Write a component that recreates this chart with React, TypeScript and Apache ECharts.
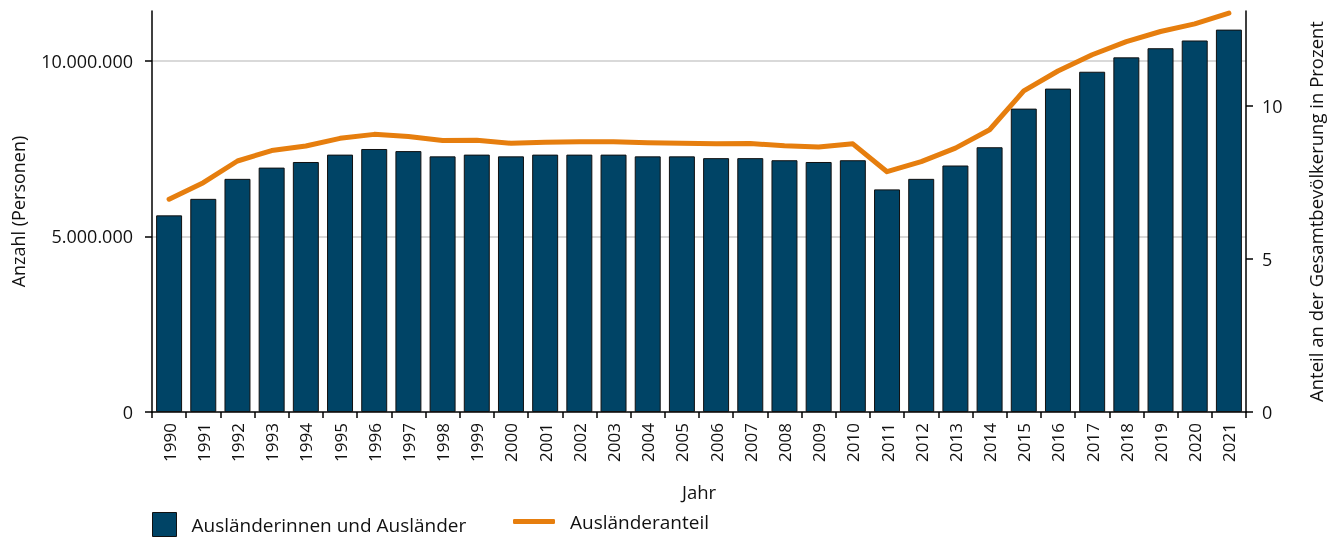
import React, { useEffect, useRef } from "react";
import * as echarts from "echarts";

const years = ["1990","1991","1992","1993","1994","1995","1996","1997","1998","1999","2000","2001","2002","2003","2004","2005","2006","2007","2008","2009","2010","2011","2012","2013","2014","2015","2016","2017","2018","2019","2020","2021"];

const foreigners = [5600000,6070000,6640000,6960000,7120000,7330000,7490000,7430000,7280000,7330000,7280000,7330000,7330000,7330000,7280000,7280000,7230000,7230000,7170000,7120000,7170000,6340000,6640000,7020000,7540000,8640000,9210000,9690000,10100000,10360000,10580000,10890000];

const share = [6.95,7.49,8.20,8.54,8.69,8.94,9.07,9.00,8.87,8.88,8.78,8.81,8.83,8.83,8.80,8.78,8.76,8.77,8.70,8.66,8.76,7.85,8.18,8.62,9.22,10.49,11.14,11.67,12.10,12.43,12.68,13.03];

const leftTicks = [0, 5000000, 10000000];
const rightTicks = [0, 5, 10];

const BAR_NAME = "Ausländerinnen und Ausländer";
const LINE_NAME = "Ausländeranteil";
const FONT = "Open Sans";
const TEXT = "#111111";
const BAR_COLOR = "#004466";
const LINE_COLOR = "#e67e0e";

function fmt(v: number) {
  return String(Math.round(v)).replace(/\B(?=(\d{3})+(?!\d))/g, ".");
}

export default function App() {
  const ref = useRef<HTMLDivElement>(null);
  useEffect(() => {
    if (!ref.current) return;
    const chart = echarts.init(ref.current, undefined, { renderer: "svg" });
    chart.setOption({
      animation: false,
      textStyle: { fontFamily: FONT, color: TEXT },
      grid: { left: 152, right: 87, top: 11, bottom: 126, containLabel: false },
      legend: [
        {
          data: [{ name: BAR_NAME, icon: "rect" }],
          left: 152,
          top: 512,
          padding: 0,
          itemWidth: 24,
          itemHeight: 24,
          itemGap: 10,
          itemStyle: { color: BAR_COLOR, borderColor: "#111", borderWidth: 1 },
          textStyle: { fontFamily: FONT, fontSize: 19, color: TEXT, padding: [0, 0, 0, 10] },
          selectedMode: false,
        },
        {
          data: [{ name: LINE_NAME, icon: "roundRect" }],
          left: 513,
          top: 512,
          padding: 0,
          itemWidth: 42,
          itemHeight: 5,
          itemStyle: { color: LINE_COLOR, borderWidth: 0 },
          textStyle: { fontFamily: FONT, fontSize: 19, color: TEXT, padding: [0, 0, 0, 10] },
          selectedMode: false,
        },
      ],
      xAxis: {
        type: "category",
        data: years,
        boundaryGap: true,
        name: "Jahr",
        nameLocation: "middle",
        nameGap: 70,
        nameTextStyle: { fontFamily: FONT, fontSize: 18.5, color: TEXT },
        axisLine: { lineStyle: { color: "#000", width: 1.5 } },
        axisTick: { show: true, length: 6, lineStyle: { color: "#000", width: 1.5 } },
        axisLabel: { rotate: 90, margin: 11, fontFamily: FONT, fontSize: 17, color: TEXT },
      },
      yAxis: [
        {
          type: "value",
          min: 0,
          max: 11420000,
          interval: 5000000,
          name: "Anzahl (Personen)",
          nameLocation: "middle",
          nameRotate: 90,
          nameGap: 125,
          nameTextStyle: { fontFamily: FONT, fontSize: 18, color: TEXT },
          axisLine: { show: true, lineStyle: { color: "#000", width: 1.5 } },
          axisTick: { show: true, length: 7, customValues: leftTicks, lineStyle: { color: "#000", width: 1.5 } },
          axisLabel: {
            margin: 19,
            fontFamily: FONT,
            fontSize: 18,
            color: TEXT,
            customValues: leftTicks,
            formatter: (v: number) => fmt(v),
          },
          splitLine: { show: true, showMaxLine: true, showMinLine: false, lineStyle: { color: "#cccccc", width: 1.5 } },
        },
        {
          type: "value",
          min: 0,
          max: 13.1,
          interval: 5,
          position: "right",
          name: "Anteil an der Gesamtbevölkerung in Prozent",
          nameLocation: "middle",
          nameRotate: 90,
          nameGap: 60,
          nameTextStyle: { fontFamily: FONT, fontSize: 18.5, color: TEXT },
          axisLine: { show: true, lineStyle: { color: "#000", width: 1.5 } },
          axisTick: { show: true, length: 7, customValues: rightTicks, lineStyle: { color: "#000", width: 1.5 } },
          axisLabel: {
            margin: 16,
            fontFamily: FONT,
            fontSize: 18,
            color: TEXT,
            customValues: rightTicks,
            formatter: (v: number) => String(v),
          },
          splitLine: { show: false },
        },
      ],
      series: [
        {
          name: BAR_NAME,
          type: "bar",
          data: foreigners,
          yAxisIndex: 0,
          barCategoryGap: "24%",
          itemStyle: { color: BAR_COLOR, borderColor: "#111", borderWidth: 1 },
        },
        {
          name: LINE_NAME,
          type: "line",
          data: share,
          yAxisIndex: 1,
          symbol: "none",
          lineStyle: { color: LINE_COLOR, width: 5, cap: "round", join: "round" },
          itemStyle: { color: LINE_COLOR },
        },
      ],
    });
    return () => chart.dispose();
  }, []);
  return <div ref={ref} style={{ position: "fixed", left: 0, top: 0, width: 1333, height: 538 }} />;
}
